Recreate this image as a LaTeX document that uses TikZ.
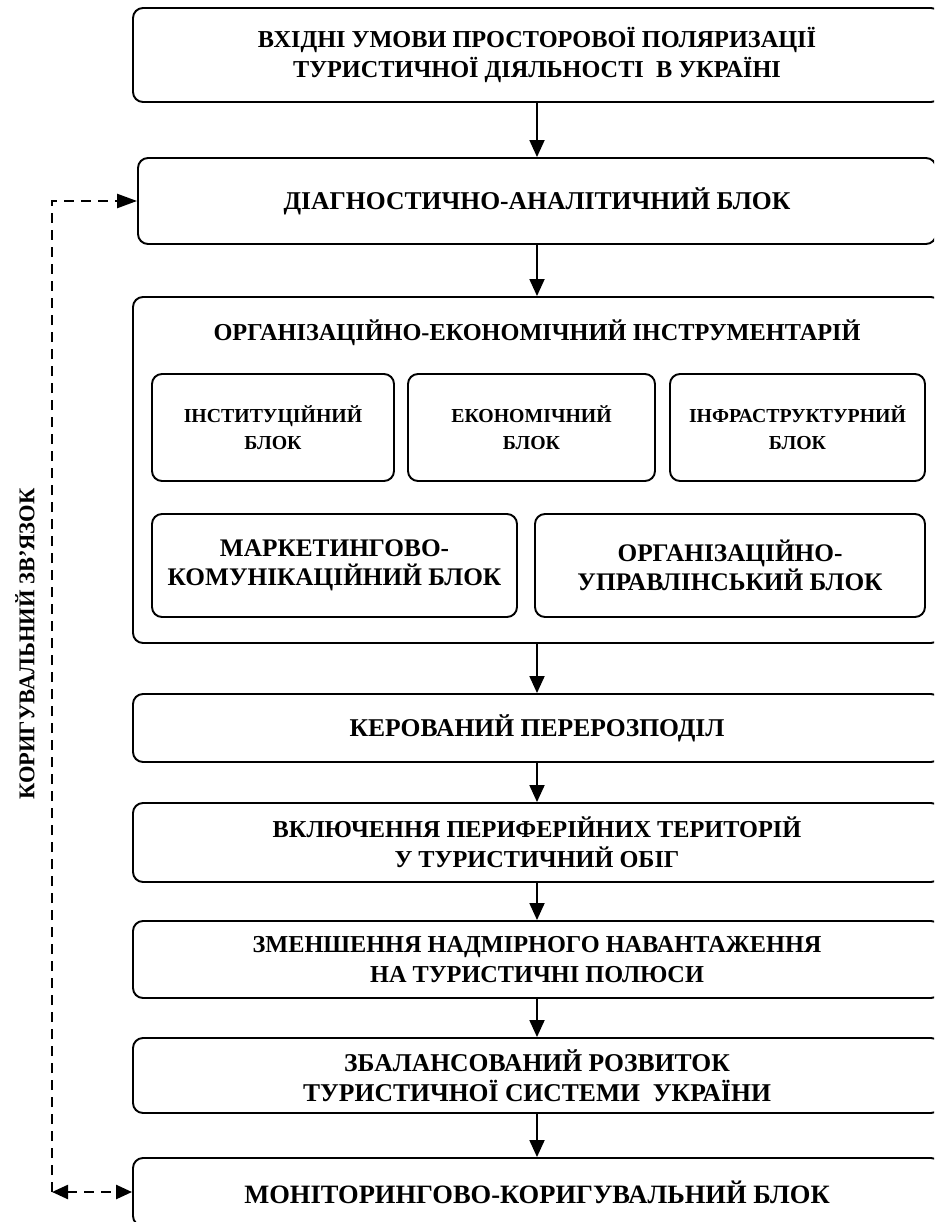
\documentclass[tikz,border=0pt]{standalone}
\usepackage{fontspec}
\setmainfont{Liberation Serif}
\usetikzlibrary{arrows.meta}

\begin{document}
\begin{tikzpicture}[x=1pt,y=-1pt,
    box/.style={draw,line width=1.9pt,rounded corners=10pt,align=center,inner sep=0pt,
      font=\fontsize{24.3}{30}\selectfont\bfseries,minimum width=808pt},
    bigtext/.style={font=\fontsize{25.6}{30}\selectfont\bfseries},
    subbox/.style={draw,line width=1.9pt,rounded corners=10pt,align=center,inner sep=0pt,
      font=\fontsize{19.8}{26.5}\selectfont\bfseries},
    subbig/.style={font=\fontsize{25.3}{29}\selectfont\bfseries},
    arr/.style={line width=1.8pt,-{Triangle[length=17pt,width=15pt]}},
    fb/.style={line width=2.4pt,dash pattern=on 10pt off 7pt}]
      \clip (0,0) rectangle (934,1222);
      \node[box,minimum height=94pt] (input) at (537,55) {ВХІДНІ УМОВИ ПРОСТОРОВОЇ ПОЛЯРИЗАЦІЇ\\ТУРИСТИЧНОЇ ДІЯЛЬНОСТІ\ \ В УКРАЇНІ};
      \node[box,bigtext,minimum width=798pt,minimum height=86pt] (diag) at (537,201) {ДІАГНОСТИЧНО-АНАЛІТИЧНИЙ БЛОК};
      \node[box,minimum height=346pt] (tools) at (537,470) {};
      \node[font=\fontsize{24.3}{30}\selectfont\bfseries] (toolstitle) at (537,333) {ОРГАНІЗАЦІЙНО-ЕКОНОМІЧНИЙ ІНСТРУМЕНТАРІЙ};
      \node[subbox,minimum width=242pt,minimum height=107pt] (inst) at (273,427.5) {ІНСТИТУЦІЙНИЙ\\БЛОК};
      \node[subbox,minimum width=247pt,minimum height=107pt] (econ) at (531.5,427.5) {ЕКОНОМІЧНИЙ\\БЛОК};
      \node[subbox,minimum width=255pt,minimum height=107pt] (infra) at (797.5,427.5) {ІНФРАСТРУКТУРНИЙ\\БЛОК};
      \node[subbox,subbig,minimum width=365pt,minimum height=103pt] (market) at (334.5,565.5) {МАРКЕТИНГОВО-\\КОМУНІКАЦІЙНИЙ БЛОК};
      \node[subbox,subbig,minimum width=390pt,minimum height=103pt] (manage) at (730,565.5) {ОРГАНІЗАЦІЙНО-\\УПРАВЛІНСЬКИЙ БЛОК};
      \node[box,bigtext,minimum height=68pt] (redist) at (537,728) {КЕРОВАНИЙ ПЕРЕРОЗПОДІЛ};
      \node[box,minimum height=79pt] (periph) at (537,842.5) {ВКЛЮЧЕННЯ ПЕРИФЕРІЙНИХ ТЕРИТОРІЙ\\У ТУРИСТИЧНИЙ ОБІГ};
      \node[box,minimum height=77pt] (load) at (537,959.5) {ЗМЕНШЕННЯ НАДМІРНОГО НАВАНТАЖЕННЯ\\НА ТУРИСТИЧНІ ПОЛЮСИ};
      \node[box,bigtext,minimum height=75pt] (balance) at (537,1075.5) {ЗБАЛАНСОВАНИЙ РОЗВИТОК\\ТУРИСТИЧНОЇ СИСТЕМИ\ \ УКРАЇНИ};
      \node[box,font=\fontsize{26.5}{30}\selectfont\bfseries,minimum height=68pt] (monitor) at (537,1192) {МОНІТОРИНГОВО-КОРИГУВАЛЬНИЙ БЛОК};
      \node[rotate=90,font=\fontsize{22.5}{26}\selectfont\bfseries] (fblabel) at (25,644) {КОРИГУВАЛЬНИЙ ЗВ’ЯЗОК};
      % main chain
      \draw[arr] (input) -- (diag);
      \draw[arr] (diag) -- (tools);
      \draw[arr] (tools) -- (redist);
      \draw[arr] (redist) -- (periph);
      \draw[arr] (periph) -- (load);
      \draw[arr] (load) -- (balance);
      \draw[arr] (balance) -- (monitor);
      % feedback loop
      \coordinate (fbtop) at (52,201);
      \coordinate (fbbot) at (52,1192);
      \draw[fb,-{Triangle[length=20pt,width=14pt]}] (fbbot) -- (fbtop) -- (diag.west);
      \draw[fb,{Triangle[length=16pt,width=14pt]}-{Triangle[length=16pt,width=14pt]}] (fbbot) -- (monitor.west);
    \end{tikzpicture}
\end{document}
